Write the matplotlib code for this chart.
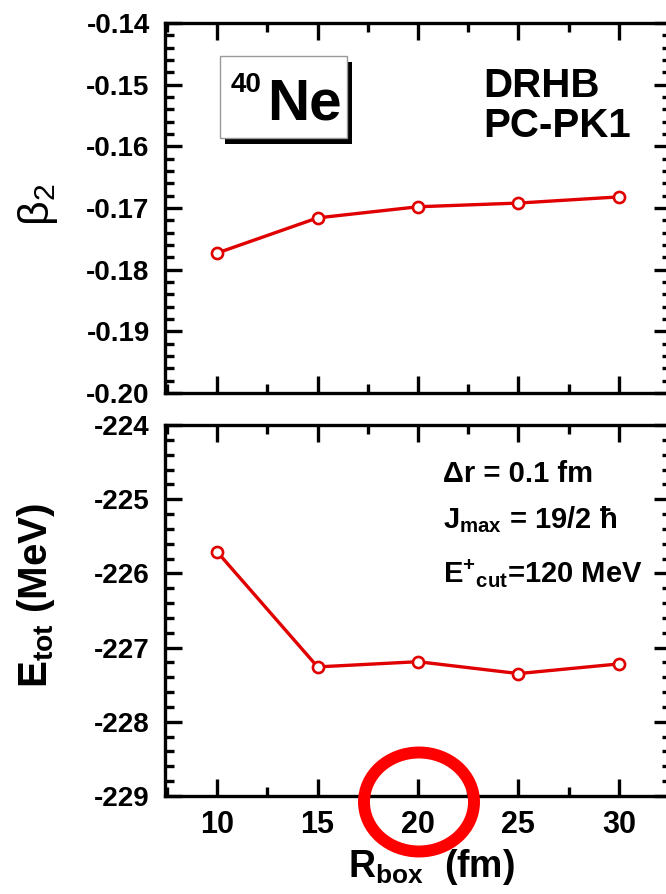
import matplotlib
matplotlib.use('Agg')
import matplotlib.pyplot as plt
from matplotlib.patches import Rectangle, Ellipse
from matplotlib.ticker import MultipleLocator, FormatStrFormatter

plt.rcParams['font.family'] = ['Liberation Sans', 'DejaVu Sans']
plt.rcParams['font.weight'] = 'bold'
plt.rcParams['axes.unicode_minus'] = False
plt.rcParams['mathtext.fontset'] = 'custom'
plt.rcParams['mathtext.rm'] = 'Liberation Sans:bold'
plt.rcParams['mathtext.bf'] = 'Liberation Sans:bold'
plt.rcParams['mathtext.it'] = 'Liberation Sans:bold'

# ---- data ----
r_box = [10, 15, 20, 25, 30]
beta2 = [-0.1773, -0.1716, -0.1698, -0.1692, -0.1682]
e_tot = [-225.71, -227.26, -227.19, -227.35, -227.22]

W, H = 666, 894
fig = plt.figure(figsize=(W / 100, H / 100), dpi=100)


def fx(x):
    return x / W


def fy(y):
    return 1 - y / H


ax1 = fig.add_axes([fx(165), fy(393), fx(671) - fx(165), fy(23) - fy(393)])
ax2 = fig.add_axes([fx(165), fy(796), fx(671) - fx(165), fy(425) - fy(796)])

line_kw = dict(color='#e00000', lw=2.4, marker='o', ms=8, mfc='white',
               mec='#e00000', mew=1.9, zorder=5)
ax1.plot(r_box, beta2, **line_kw)
ax2.plot(r_box, e_tot, **line_kw)

for ax in (ax1, ax2):
    ax.set_xlim(7.4, 32.6)
    ax.xaxis.set_major_locator(MultipleLocator(5))
    ax.xaxis.set_minor_locator(MultipleLocator(2.5))
    ax.tick_params(which='both', direction='in', top=True, right=True,
                   width=2.4)
    ax.tick_params(which='major', length=12)
    ax.tick_params(which='minor', length=6.5)
    ax.tick_params(axis='y', labelsize=20, pad=11)
    ax.tick_params(axis='x', labelsize=22, pad=10)
    for s in ax.spines.values():
        s.set_linewidth(2.4)

ax1.set_ylim(-0.20, -0.14)
ax1.yaxis.set_major_locator(MultipleLocator(0.01))
ax1.yaxis.set_minor_locator(MultipleLocator(0.002))
ax1.yaxis.set_major_formatter(FormatStrFormatter('%.2f'))
ax1.tick_params(labelbottom=False)

ax2.set_ylim(-229, -224)
ax2.yaxis.set_major_locator(MultipleLocator(1))
ax2.yaxis.set_minor_locator(MultipleLocator(0.2))
ax2.yaxis.set_major_formatter(FormatStrFormatter('%d'))

# axis labels
fig.text(fx(38), fy(205), r'$\mathregular{\beta_2}$', rotation=90,
         ha='center', va='center', fontsize=31, fontweight='normal')
fig.text(fx(36), fy(595), r'$\mathregular{E_{tot}}$ (MeV)', rotation=90,
         ha='center', va='center', fontsize=29, fontweight='bold')
fig.text(fx(348), fy(877), r'$\mathregular{R_{box}}$  (fm)',
         ha='left', va='baseline', fontsize=27, fontweight='bold')

# 40Ne box with shadow
shadow = Rectangle((fx(225), fy(144)), fx(352) - fx(225), fy(62) - fy(144),
                   transform=fig.transFigure, facecolor='black',
                   edgecolor='none', zorder=6)
box = Rectangle((fx(220), fy(138)), fx(347) - fx(220), fy(56) - fy(138),
                transform=fig.transFigure, facecolor='white',
                edgecolor='#999999', lw=1.0, zorder=7)
fig.add_artist(shadow)
fig.add_artist(box)
fig.text(fx(231), fy(92), '40', ha='left', va='baseline', fontsize=20,
         fontweight='bold', zorder=8)
fig.text(fx(267), fy(120), 'Ne', ha='left', va='baseline', fontsize=42,
         fontweight='bold', zorder=8)

fig.text(fx(483), fy(97), 'DRHB', ha='left', va='baseline', fontsize=29,
         fontweight='bold')
fig.text(fx(483), fy(137), 'PC-PK1', ha='left', va='baseline', fontsize=29,
         fontweight='bold')

fig.text(fx(443), fy(482), '\u0394r = 0.1 fm', ha='left', va='baseline',
         fontsize=21, fontweight='bold')
fig.text(fx(443), fy(528), r'$\mathregular{J_{max}}$ = 19/2 ' + '\u0127',
         ha='left', va='baseline', fontsize=21, fontweight='bold')
fig.text(fx(443), fy(583), r'$\mathregular{E^{+}{}_{cut}}$=120 MeV',
         ha='left', va='baseline', fontsize=21, fontweight='bold')

# red circle highlight
ring = Ellipse((fx(419), fy(802)), width=110 / W, height=99 / H,
               transform=fig.transFigure, fill=False, edgecolor='#ff0000',
               lw=8.6, zorder=20)
fig.add_artist(ring)

fig.savefig('out.png', dpi=100)
